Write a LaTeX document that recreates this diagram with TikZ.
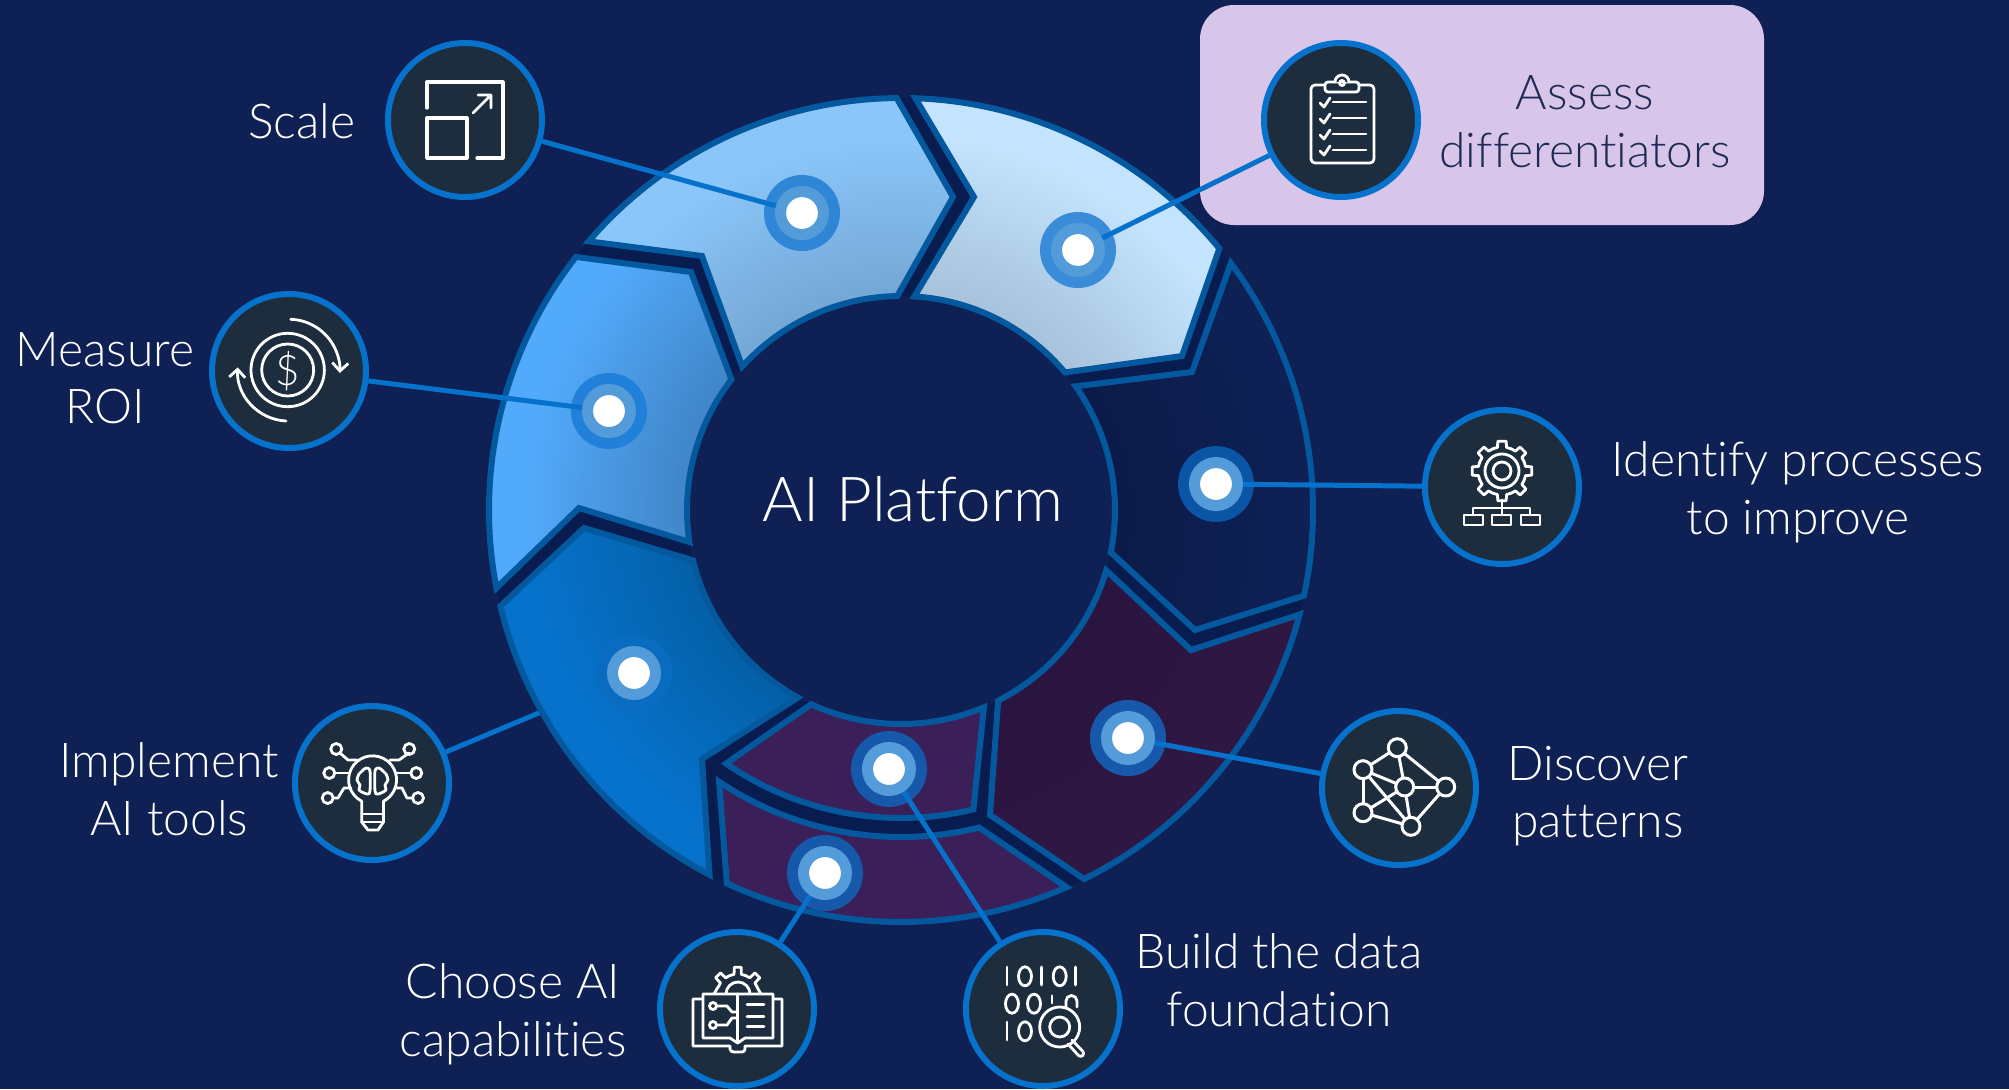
\documentclass[tikz,border=0pt]{standalone}
\usepackage{fontspec}
\setmainfont{Lato Light}[Ligatures=NoCommon]
\usepackage{xcolor}
\usetikzlibrary{arrows.meta, shapes.geometric}
\definecolor{navy}{RGB}{14,32,84}
\definecolor{gapnavy}{RGB}{9,28,80}
\definecolor{slate}{RGB}{30,45,61}
\definecolor{linkblue}{RGB}{6,114,204}
\definecolor{ringblue}{RGB}{4,89,158}
\definecolor{lilac}{RGB}{216,197,234}
\definecolor{inktext}{RGB}{30,43,85}
\colorlet{ringin}{navy}
\colorlet{ringout}{navy}
\pgfdeclareradialshading[ringin,ringout]{ringshade}{\pgfpointorigin}{color(0bp)=(ringin); color(13bp)=(ringin); color(22bp)=(ringout); color(50bp)=(ringout)}
\tikzset{
    segment/.style 2 args={draw=ringblue, line width=3pt, line join=miter, path picture={\colorlet{ringin}{#1}\colorlet{ringout}{#2}\shade[shading=ringshade] (0,0) circle (425);}},
    iconbox/.style={circle, draw=linkblue, line width=3pt, fill=slate, minimum size=77pt, inner sep=0pt},
    halo/.style={circle, minimum size=38pt, inner sep=0pt},
    dotring/.style={circle, fill=white, draw={rgb,255:red,84;green,155;blue,218}, line width=5.5pt, minimum size=21.5pt, inner sep=0pt},
    link/.style={draw=linkblue, line width=2.5pt},
    labeltext/.style={text=white, align=center, font=\fontsize{24}{28.8}\selectfont},
    iconline/.style={draw=white, line width=1.4pt, line join=round, line cap=round}
}
\begin{document}
\begin{tikzpicture}[x=0.5pt, y=0.5pt]
    \useasboundingbox (-901,510) rectangle (1108,-579);
    \fill[navy] (-901,510) rectangle (1108,-579);
    % Highlight behind the first step
    \fill[lilac, rounded corners=17pt] (299,505) rectangle (863,285);

    % Icon circles
    \node[iconbox] (scaleicon) at (-436,390) {};
    \node[iconbox] (roiicon) at (-612,139) {};
    \node[iconbox] (toolsicon) at (-529,-273) {};
    \node[iconbox] (capicon) at (-164,-499) {};
    \node[iconbox] (dataicon) at (142,-499) {};
    \node[iconbox] (patternicon) at (498,-278) {};
    \node[iconbox] (processicon) at (601,23) {};
    \node[iconbox] (assessicon) at (440,390) {};
    \coordinate (toolsdot) at (-267,-163);
    \draw[link] (toolsicon) -- (toolsdot);

    % Ring segments
    \fill[gapnavy, even odd rule] (0,0) circle (412) (0,0) circle (214);
    \draw[segment={rgb,255:red,11;green,27;blue,73}{navy}] (36.8:412) -- (291,138) -- (35.3:214) arc[start angle=35.3, end angle=-11.4, radius=214] -- (294,-120) -- (-12:412) arc[start angle=-12, end angle=36.8, radius=412] -- cycle;
    \draw[segment={rgb,255:red,168;green,195;blue,219}{rgb,255:red,195;green,227;blue,254}] (88:412) -- (73,313) -- (86.4:214) arc[start angle=86.4, end angle=40, radius=214] -- (281,154) -- (39.4:412) arc[start angle=39.4, end angle=88, radius=412] -- cycle;
    \draw[segment={rgb,255:red,117;green,168;blue,214}{rgb,255:red,139;green,198;blue,250}] (139.3:412) -- (-199,254) -- (137.9:214) arc[start angle=137.9, end angle=91, radius=214] -- (52,313) -- (90.6:412) arc[start angle=90.6, end angle=139.3, radius=412] -- cycle;
    \draw[segment={rgb,255:red,65;green,135;blue,202}{rgb,255:red,82;green,170;blue,251}] (142.1:412) -- (-210,238) -- (142.4:214) arc[start angle=142.4, end angle=188.6, radius=214] -- (-322,2) -- (190.9:412) arc[start angle=190.9, end angle=142.1, radius=412] -- cycle;
    \draw[segment={rgb,255:red,4;green,97;blue,169}{rgb,255:red,6;green,114;blue,204}] (-317,-18) -- (193.6:214) arc[start angle=193.6, end angle=241.2, radius=214] -- (-199,-249) -- (242.3:412) arc[start angle=242.3, end angle=193.5, radius=412] -- cycle;
    \draw[segment={rgb,255:red,42;green,21;blue,64}{rgb,255:red,46;green,23;blue,66}] (-16.4:214) -- (290,-140) -- (-14.7:412) arc[start angle=-14.7, end angle=-63.6, radius=412] -- (89,-305) -- (-63:214) arc[start angle=-63, end angle=-16.4, radius=214] -- cycle;
    \draw[segment={rgb,255:red,59;green,31;blue,88}{rgb,255:red,59;green,31;blue,88}] (-67.2:214) -- (-76.4:308) arc[start angle=-76.4, end angle=-124.6, radius=308] -- (-114.8:214) arc[start angle=-114.8, end angle=-67.2, radius=214] -- cycle;
    \draw[segment={rgb,255:red,59;green,31;blue,88}{rgb,255:red,59;green,31;blue,88}] (-76.2:327) -- (-66.3:412) arc[start angle=-66.3, end angle=-115, radius=412] -- (-123.8:327) arc[start angle=-123.8, end angle=-76.2, radius=327] -- cycle;

    % Halos round the dots
    \node[halo, fill={rgb,255:red,47;green,134;blue,215}] (scalehalo) at (-99,297) {};
    \node[halo, fill={rgb,255:red,58;green,140;blue,216}] (assesshalo) at (177,260) {};
    \node[halo, fill={rgb,255:red,10;green,85;blue,165}] (processhalo) at (315,26) {};
    \node[halo, fill={rgb,255:red,22;green,89;blue,171}] (patternhalo) at (227,-228) {};
    \node[halo, fill={rgb,255:red,22;green,89;blue,171}] (datahalo) at (-12,-259) {};
    \node[halo, fill={rgb,255:red,22;green,89;blue,171}] (caphalo) at (-76,-363) {};
    \node[halo, fill={rgb,255:red,32;green,128;blue,218}] (roihalo) at (-292,99) {};
    \node[halo, fill={rgb,255:red,10;green,108;blue,192}] (toolshalo) at (toolsdot) {};

    % Links
    \draw[link] (scaleicon) -- (scalehalo.center);
    \draw[link] (assessicon) -- (assesshalo.center);
    \draw[link] (processicon) -- (processhalo.center);
    \draw[link] (patternicon) -- (patternhalo.center);
    \draw[link] (dataicon) -- (datahalo.center);
    \draw[link] (capicon) -- (caphalo.center);
    \draw[link] (roiicon) -- (roihalo.center);

    % Dots
    \node[dotring] (scaledot) at (scalehalo) {};
    \node[dotring] (assessdot) at (assesshalo) {};
    \node[dotring] (processdot) at (processhalo) {};
    \node[dotring] (patterndot) at (patternhalo) {};
    \node[dotring] (datadot) at (datahalo) {};
    \node[dotring] (capdot) at (caphalo) {};
    \node[dotring] (roidot) at (roihalo) {};
    \node[dotring] (toolsring) at (toolshalo) {};

    % Labels
    \node[text=white, font=\fontsize{31}{36}\selectfont] (title) at (12,11) {AI Platform};
    \node[labeltext] (scalelabel) at (-599,389) {Scale};
    \node[labeltext] (roilabel) at (-796,132) {Measure\\ROI};
    \node[labeltext] (toolslabel) at (-732,-279) {Implement\\AI tools};
    \node[labeltext] (caplabel) at (-388,-504) {Choose AI\\capabilities};
    \node[labeltext] (datalabel) at (378,-470) {Build the data\\foundation};
    \node[labeltext] (patternlabel) at (697,-286) {Discover\\patterns};
    \node[labeltext] (processlabel) at (897,18) {Identify processes\\to improve};
    \node[labeltext, text=inktext] (assesslabel) at (684,388) {Assess\\differentiators};

    % Scale icon
    \begin{scope}[shift={(scaleicon)}]
        \draw[iconline, line width=1.6pt] (-38,12) -- (-38,38) -- (38,38) -- (38,-38) -- (12,-38);
        \draw[iconline, line width=1.6pt] (-38,2) rectangle (2,-38);
        \draw[iconline] (8,7) -- (26,25) (13,25) -- (26,25) -- (26,12);
    \end{scope}

    % Clipboard icon
    \begin{scope}[shift={(assessicon)}]
        \draw[iconline] (-16,35) -- (-26,35) to[out=180, in=90] (-30,31) -- (-30,-39) to[out=-90, in=180] (-26,-43) -- (29,-43) to[out=0, in=-90] (33,-39) -- (33,31) to[out=90, in=0] (29,35) -- (18,35);
        \draw[iconline, rounded corners=1.5pt] (-16,38) rectangle (18,28);
        \draw[iconline, fill=slate] (-6,38) arc[start angle=180, end angle=0, radius=7];
        \draw[iconline] (1,37) circle (2.5);
        \foreach \y in {18,2,-14,-30} {
            \draw[iconline] (-21,\y-1) -- (-17,\y-5) -- (-11,\y+4);
            \draw[iconline] (-8,\y) -- (25,\y);
        }
    \end{scope}

    % Money icon
    \begin{scope}[shift={(roiicon)}]
        \draw[iconline] (-1.3,1) circle (36.7);
        \draw[iconline] (-1.3,1) circle (26);
        \node[text=white, font=\fontsize{21}{21}\selectfont, inner sep=0pt] (dollar) at (-1.3,0) {\$};
        \draw[iconline, -{Straight Barb[length=4pt, width=8pt]}] (1.7,51.7) arc[start angle=88, end angle=-3, radius=51];
        \draw[iconline, -{Straight Barb[length=4pt, width=8pt]}] (-3,-50) arc[start angle=267, end angle=177, radius=51];
    \end{scope}

    % Bulb icon
    \begin{scope}[shift={(toolsicon)}]
        \draw[iconline] (-10.3,-18.2) arc[start angle=243, end angle=-63, radius=24];
        \draw[iconline] (-10.3,-18.2) -- (-10.3,-39) -- (-4,-47) -- (6,-47) -- (11.5,-39) -- (11.5,-18.2);
        \draw[iconline] (-10.3,-31) -- (11.5,-31) (-10.3,-39) -- (11.5,-39);
        \foreach \px/\py in {-35.7/34,-42.7/10,-44.3/-15,37.3/34,44.3/10,46/-15} {
            \draw[iconline] (\px,\py) circle (5.5);
        }
        \draw[iconline] (-32,30) -- (-24,23) -- (-15,23);
        \draw[iconline] (37,30) -- (27,23) -- (18,23);
        \draw[iconline] (-37,10) -- (-23,10);
        \draw[iconline] (39,10) -- (25,10);
        \draw[iconline] (-39,-15) -- (-34,-15) -- (-28,-5) -- (-21,-5);
        \draw[iconline] (41,-15) -- (35,-15) -- (30,-5) -- (24,-5);
        \draw[iconline] plot[smooth cycle] coordinates {(-2,12) (-6,15) (-10,12) (-13,9) (-15,3) (-12,-2) (-13,-7) (-8,-10) (-4,-11) (-2,-8)};
        \draw[iconline] plot[smooth cycle] coordinates {(3,12) (7,15) (11,12) (14,9) (16,3) (13,-2) (14,-7) (9,-10) (5,-11) (3,-8)};
    \end{scope}

    % Book and gear icon
    \begin{scope}[shift={(capicon)}]
        \foreach \a in {45,90,135} {
            \draw[iconline, shift={(0.7,14)}, rotate=\a-90] (67.5:21) arc[start angle=67.5, end angle=80, radius=21] -- (83:28) -- (97:28) -- (100:21) arc[start angle=100, end angle=112.5, radius=21];
        }
        \draw[iconline] (20,22) -- (24,15) (-19,22) -- (-23,15);
        \draw[iconline] (-11,15) arc[start angle=180, end angle=0, radius=12];
        \draw[iconline] (-34,10) -- (-44,10) -- (-44,-37) -- (-7,-37) -- (-7,-40) to[out=-90, in=180] (-3,-43) -- (5,-43) to[out=0, in=-90] (8,-40) -- (8,-37) -- (45,-37) -- (45,10) -- (36,10);
        \draw[iconline, fill=slate] (-34,15) -- (36,15) -- (36,-29) -- (8,-29) -- (0.7,-34) -- (-7,-29) -- (-34,-29) -- cycle;
        \draw[iconline] (0.7,15) -- (0.7,-34);
        \draw[iconline] (-24,3) circle (3.5);
        \draw[iconline] (-24,-16) circle (3.5);
        \draw[iconline] (-20.5,3) -- (-10,3) -- (-5,-3) -- (0.7,-3);
        \draw[iconline] (-20.5,-16) -- (-10,-16) -- (-5,-9) -- (0.7,-9);
        \foreach \y in {4.7,-7.7,-17.7} {
            \draw[iconline] (10,\y) -- (27,\y);
        }
    \end{scope}

    % Binary icon
    \begin{scope}[shift={(dataicon)}]
        \foreach \x in {-36,-1.7,32.3} {
            \draw[iconline] (\x,42) -- (\x,24);
        }
        \foreach \x in {-18,16.7} {
            \draw[iconline] (\x,32.7) ellipse (6.5 and 9.5);
        }
        \draw[iconline] (-31,5.3) ellipse (6.5 and 9.5);
        \draw[iconline] (-9,5.3) ellipse (6.5 and 9.5);
        \draw[iconline] (9,13.3) -- (9,6);
        \draw[iconline] (23,2) -- (23,8) arc[start angle=180, end angle=0, radius=5.5] -- (34,2);
        \draw[iconline] (-36,-13) -- (-36,-31);
        \draw[iconline] (-18,-22.3) ellipse (6.5 and 9.5);
        \draw[iconline] (16.7,-18) circle (20);
        \draw[iconline] (16.7,-18) circle (10);
        \draw[iconline] (25,-35) -- (35.5,-46.5) arc[start angle=225, end angle=405, radius=3] -- (29,-31);
    \end{scope}

    % Network icon
    \begin{scope}[shift={(patternicon)}]
        \coordinate (na) at (-1.7,40.3);
        \coordinate (nb) at (-36,18.3);
        \coordinate (nc) at (5.7,1);
        \coordinate (nd) at (46.7,1);
        \coordinate (ne) at (-36,-24.7);
        \coordinate (nf) at (12,-38.3);
        \foreach \s/\t in {na/nb,na/nc,na/nd,nb/nc,nb/ne,nb/nf,nc/nd,nc/ne,nc/nf,nd/nf,ne/nf} {
            \draw[iconline, line width=1.5pt] (\s) -- (\t);
        }
        \foreach \s in {na,nb,nc,nd,ne,nf} {
            \draw[iconline, line width=1.5pt, fill=slate] (\s) circle (9);
        }
    \end{scope}

    % Gear and chart icon
    \begin{scope}[shift={(processicon)}]
        \foreach \a in {0,45,...,315} {
            \draw[iconline, shift={(0,16)}, rotate=\a] (-22.5:24) arc[start angle=-22.5, end angle=-11, radius=24] -- (-8:30) -- (8:30) -- (11:24) arc[start angle=11, end angle=22.5, radius=24];
        }
        \draw[iconline] (0,16) circle (17);
        \draw[iconline] (0,16) circle (9);
        \draw[iconline] (0,-13) -- (0,-28);
        \draw[iconline] (-29,-28) -- (-29,-21) -- (28,-21) -- (28,-28);
        \draw[iconline] (-38,-28) rectangle (-19,-38);
        \draw[iconline] (-10,-28) rectangle (9,-38);
        \draw[iconline] (19,-28) rectangle (38,-38);
    \end{scope}
\end{tikzpicture}
\end{document}
